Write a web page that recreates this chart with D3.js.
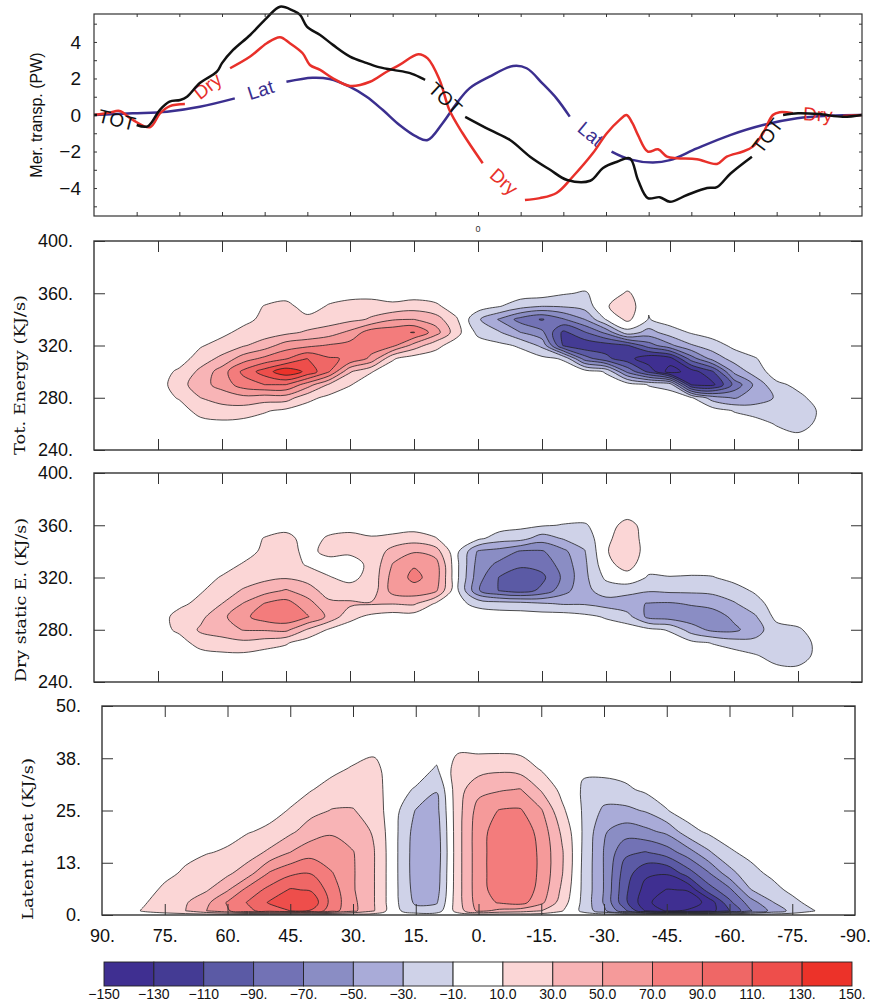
<!DOCTYPE html>
<html>
<head>
<meta charset="utf-8">
<script src="https://cdn.jsdelivr.net/npm/d3@7"></script>
<style>
  body { margin: 0; background: #fff; }
  svg { display: block; }
</style>
</head>
<body>
<div id="chart"></div>
<script>
// ---- top panel: meridional transport (PW) vs latitude ----
const totData = [[90,0],[89.3,0],[80,-0.55],[77.4,-0.62],[74.6,0.27],[72.3,0.73],[69.8,0.82],[68.2,1.0],[65.2,1.75],[61.2,2.37],[60,2.84],[57.4,3.56],[53.4,4.38],[49.5,5.32],[46.4,5.93],[43.4,5.72],[41.7,5.48],[40.1,4.84],[37,4.38],[34,3.84],[30,3.2],[26,2.84],[23.7,2.65],[19.9,2.47],[15.9,2.29],[12.4,1.92],[3,-0.1],[-2.8,-0.82],[-7.5,-1.37],[-12.2,-2.28],[-16.9,-3.0],[-20.9,-3.56],[-26.3,-3.6],[-29.3,-2.9],[-32.6,-2.56],[-35.6,-2.37],[-37.5,-3.56],[-39.8,-4.55],[-42.6,-4.5],[-45,-4.75],[-49,-4.38],[-53.7,-4.0],[-56,-3.95],[-59.2,-3.2],[-64.2,-2.28],[-71.5,0],[-75,0.1],[-80,0.05],[-85.5,-0.1],[-90,0]];
const dryData = [[90,0],[86.3,0.13],[84,0.22],[80.9,-0.27],[76.9,-0.67],[74.5,0.1],[72.2,0.49],[68.7,0.6],[58.1,2.56],[53.4,3.2],[49.5,3.93],[46.4,4.26],[44.1,3.93],[41.1,3.38],[39.4,2.74],[37,2.47],[34,2.01],[30,1.59],[25.3,1.82],[21.4,2.37],[18.4,2.74],[14,3.33],[11.8,3.1],[9,1.92],[6.7,0.27],[3.6,-1.0],[-1.1,-2.64],[-11,-4.66],[-14.5,-4.55],[-18.4,-4.27],[-22.2,-3.38],[-26.9,-2.1],[-30.2,-1.0],[-33.2,-0.27],[-34.8,0],[-36.2,-0.45],[-37.5,-1.1],[-39.8,-2.0],[-42.2,-1.88],[-44.3,-2.28],[-46.6,-2.37],[-51.3,-2.42],[-56,-2.68],[-58.3,-2.28],[-62.1,-2.0],[-64.4,-1.73],[-66.8,-1.0],[-69.1,0],[-70.7,0.15],[-73.8,0.1],[-85.5,-0.05],[-90,0]];
const latData = [[90,0],[80.9,0.09],[72.9,0.18],[65.2,0.45],[57,0.91],[44.9,1.82],[38.8,2.04],[34.8,1.97],[30.1,1.55],[26.1,1.0],[22.3,0.27],[18.4,-0.55],[14.4,-1.19],[11.8,-1.37],[8.3,-0.45],[5,0.64],[2,1.46],[-2.7,2.1],[-8.2,2.68],[-11.4,2.56],[-15.1,1.73],[-18.4,0.91],[-21.5,-0.09],[-31.3,-2.0],[-35.6,-2.43],[-41,-2.6],[-45,-2.47],[-51.3,-1.83],[-59.1,-1.1],[-66.8,-0.55],[-74.8,-0.18],[-82.5,-0.04],[-90,0]];
// inline labels: the line is broken between "from" and "to" latitudes
const totLabels = [{text: 'TOT', from: 89.3, to: 80}, {text: 'TOT', from: 12.4, to: 3}, {text: 'TOT', from: -64.2, to: -71.5}];
const dryLabels = [{text: 'Dry', from: 68.7, to: 58.1}, {text: 'Dry', from: -1.1, to: -11}, {text: 'Dry', from: -73.8, to: -85.5}];
const latLabels = [{text: 'Lat', from: 57, to: 44.9}, {text: 'Lat', from: -21.5, to: -31.3}];
const merTicks = [-4, -2, 0, 2, 4];

// ---- contour panels: one column per latitude, one value per row ----
const latGrid = [90,85,80,75,70,65,60,55,50,45,40,35,30,25,20,15,10,5,0,-5,-10,-15,-20,-25,-30,-35,-40,-45,-50,-55,-60,-65,-70,-75,-80,-85,-90];
const energyRows = [240,250,260,270,280,290,300,310,320,330,340,350,360,370,380];
const latentRows = [0,1,3,6,10,15,20,25,30,35,40,45,50];

const totEnergyCols = [
  [0,0,0,0,0,0,0,0,0,0,0,0,0,0,0],
  [0,0,0,0,0,0,0,0,0,0,0,0,0,0,0],
  [0,0,0,0,0,0,0,0,0,0,0,0,0,0,0],
  [0,0,0,0,0,0,0,0,0,0,0,0,0,0,0],
  [0,0,0,0,12,22,14,0,0,0,0,0,0,0,0],
  [0,0,2,18,30,42,35,20,8,0,0,0,0,0,0],
  [0,0,5,22,38,58,60,35,18,5,0,0,0,0,0],
  [0,0,3,20,44,80,95,60,28,16,4,0,0,0,0],
  [0,0,0,12,40,90,120,75,40,20,15,11,0,0,0],
  [0,0,0,5,40,90,145,88,60,25,18,17,0,0,0],
  [0,0,0,0,16,60,125,110,65,33,16,0,0,0,0],
  [0,0,0,0,5,28,92,92,72,40,20,12,0,0,0],
  [0,0,0,0,0,11,32,88,78,55,25,20,0,0,0],
  [0,0,0,0,0,0,11,65,80,82,32,22,0,0,0],
  [0,0,0,0,0,0,0,12,75,85,48,15,0,0,0],
  [0,0,0,0,0,0,0,0,42,91,50,20,0,0,0],
  [0,0,0,0,0,0,0,0,16,60,40,14,0,0,0],
  [0,0,0,0,0,0,0,0,0,17,12,0,0,0,0],
  [0,0,0,0,0,0,0,0,0,-15,-27,0,0,0,0],
  [0,0,0,0,0,0,0,0,-5,-28,-52,-9,0,0,0],
  [0,0,0,0,0,0,0,0,-13,-50,-78,-22,0,0,0],
  [0,0,0,0,0,0,0,-5,-35,-65,-92,-30,0,0,0],
  [0,0,0,0,0,0,0,-12,-112,-115,-72,-28,-8,0,0],
  [0,0,0,0,0,0,0,-80,-125,-92,-50,-22,-12,0,0],
  [0,0,0,0,0,0,-12,-105,-120,-65,-9,8,0,0,0],
  [0,0,0,0,0,0,-75,-122,-112,-18,15,22,12,0,0],
  [0,0,0,0,0,-11,-115,-145,-80,-38,-11,-8,0,0,0],
  [0,0,0,0,0,-18,-160,-138,-55,-20,0,0,0,0,0],
  [0,0,0,0,-8,-131,-140,-80,-32,-8,0,0,0,0,0],
  [0,0,0,0,-40,-135,-112,-42,-20,0,0,0,0,0,0],
  [0,0,0,-11,-52,-85,-45,-22,-5,0,0,0,0,0,0],
  [0,0,0,-20,-40,-45,-20,-11,0,0,0,0,0,0,0],
  [0,0,-12,-22,-28,-14,0,0,0,0,0,0,0,0,0],
  [0,-8,-14,-16,-14,-6,0,0,0,0,0,0,0,0,0],
  [0,0,-8,-9,-4,0,0,0,0,0,0,0,0,0,0],
  [0,0,0,0,0,0,0,0,0,0,0,0,0,0,0],
  [0,0,0,0,0,0,0,0,0,0,0,0,0,0,0]
];

const dryStaticCols = [
  [0,0,0,0,0,0,0,0,0,0,0,0,0,0,0],
  [0,0,0,0,0,0,0,0,0,0,0,0,0,0,0],
  [0,0,0,0,0,0,0,0,0,0,0,0,0,0,0],
  [0,0,0,0,0,0,0,0,0,0,0,0,0,0,0],
  [0,0,0,0,15,18,5,0,0,0,0,0,0,0,0],
  [0,0,0,20,33,25,16,8,0,0,0,0,0,0,0],
  [0,0,5,22,40,45,30,20,12,0,0,0,0,0,0],
  [0,0,5,25,51,65,51,32,20,12,0,0,0,0,0],
  [0,0,0,20,52,80,71,42,25,20,15,11,0,0,0],
  [0,0,0,12,55,85,78,52,28,20,16,18,0,0,0],
  [0,0,0,0,28,72,58,40,22,8,6,0,0,0,0],
  [0,0,0,0,8,45,35,20,11,4,14,13,0,0,0],
  [0,0,0,0,0,16,34,16,6,3,13,18,0,0,0],
  [0,0,0,0,0,5,32,18,15,14,14,12,0,0,0],
  [0,0,0,0,0,0,31,58,58,51,38,15,0,0,0],
  [0,0,0,0,0,0,33,62,75,68,48,20,0,0,0],
  [0,0,0,0,0,0,8,55,62,60,40,11,0,0,0],
  [0,0,0,0,0,0,-5,-5,-5,-5,-5,-2,0,0,0],
  [0,0,0,0,0,0,-15,-68,-62,-58,-52,-5,0,0,0],
  [0,0,0,0,0,0,-20,-91,-91,-75,-58,-20,0,0,0],
  [0,0,0,0,0,0,-22,-100,-105,-85,-72,-22,-5,0,0],
  [0,0,0,0,0,0,-28,-85,-95,-82,-72,-40,-8,0,0],
  [0,0,0,0,0,0,-32,-58,-66,-62,-55,-28,-11,0,0],
  [0,0,0,0,0,-5,-32,-35,-35,-34,-31,-22,-12,0,0],
  [0,0,0,0,0,-12,-38,-22,-6,4,8,5,0,0,0],
  [0,0,0,0,0,-22,-45,-22,2,18,25,22,18,0,0],
  [0,0,0,0,-5,-56,-51,-28,-12,-3,0,0,0,0,0],
  [0,0,0,0,-12,-60,-52,-26,-11,0,0,0,0,0,0],
  [0,0,0,-5,-40,-62,-48,-26,-12,0,0,0,0,0,0],
  [0,0,0,-11,-55,-62,-42,-25,-11,0,0,0,0,0,0],
  [0,0,0,-20,-55,-45,-32,-18,-4,0,0,0,0,0,0],
  [0,0,-8,-25,-38,-32,-18,-7,0,0,0,0,0,0,0],
  [0,-6,-18,-24,-18,-4,0,0,0,0,0,0,0,0,0],
  [0,-8,-16,-17,-12,-3,0,0,0,0,0,0,0,0,0],
  [0,-4,-6,-6,-3,0,0,0,0,0,0,0,0,0,0],
  [0,0,0,0,0,0,0,0,0,0,0,0,0,0,0],
  [0,0,0,0,0,0,0,0,0,0,0,0,0,0,0]
];

const latentCols = [
  [0,0,0,0,0,0,0,0,0,0,0,0,0],
  [0,0,0,0,0,0,0,0,0,0,0,0,0],
  [0,12,8,2,0,0,0,0,0,0,0,0,0],
  [0,20,20,14,5,0,0,0,0,0,0,0,0],
  [0,30,28,20,13,5,0,0,0,0,0,0,0],
  [0,50,45,28,20,9,3,0,0,0,0,0,0],
  [0,68,72,48,26,12,5,0,0,0,0,0,0],
  [0,85,92,78,42,20,9,3,0,0,0,0,0],
  [0,100,112,96,72,34,13,5,0,0,0,0,0],
  [0,110,124,112,86,50,26,11,4,0,0,0,0],
  [0,108,125,108,89,62,40,24,9,0,0,0,0],
  [0,78,82,80,71,58,48,31,18,5,0,0,0],
  [0,55,55,52,52,51,40,31,22,12,0,0,0],
  [0,31,31,31,31,31,28,22,19,15,6,0,0],
  [0,-5,-5,-5,-5,-5,-5,-4,-2,0,0,0,0],
  [0,-22,-34,-38,-40,-40,-38,-31,-12,0,0,0,0],
  [0,-20,-32,-38,-40,-42,-40,-36,-29,-12,0,0,0],
  [0,18,22,22,22,22,22,22,22,20,6,0,0],
  [0,55,60,62,62,62,62,58,44,22,5,0,0],
  [0,45,72,80,82,82,80,71,48,26,4,0,0],
  [0,40,78,86,88,88,84,72,51,22,3,0,0],
  [0,30,55,62,65,65,62,52,28,8,0,0,0],
  [0,11,20,26,31,32,26,14,4,0,0,0,0],
  [0,-15,-15,-14,-14,-13,-12,-12,-12,-8,0,0,0],
  [0,-45,-52,-51,-51,-51,-48,-34,-18,-4,0,0,0],
  [0,-85,-105,-105,-100,-86,-60,-35,-14,-2,0,0,0],
  [0,-132,-145,-138,-126,-91,-55,-28,-6,0,0,0,0],
  [0,-152,-162,-151,-128,-80,-45,-11,0,0,0,0,0],
  [0,-148,-160,-149,-100,-60,-18,0,0,0,0,0,0],
  [0,-140,-145,-100,-72,-33,-6,0,0,0,0,0,0],
  [0,-111,-95,-75,-38,-12,-3,0,0,0,0,0,0],
  [0,-72,-60,-31,-15,-6,0,0,0,0,0,0,0],
  [0,-45,-32,-16,-7,0,0,0,0,0,0,0,0],
  [0,-24,-15,-6,0,0,0,0,0,0,0,0,0],
  [0,-11,-4,0,0,0,0,0,0,0,0,0,0],
  [0,0,0,0,0,0,0,0,0,0,0,0,0],
  [0,0,0,0,0,0,0,0,0,0,0,0,0]
];

// contour levels and fills
const levels = [10, 30, 50, 70, 90, 110, 130, 150];
const redFills = ['#fbd6d6', '#f8b4b6', '#f59a9a', '#f37c7c', '#ef6766', '#ee4e4b', '#ec3229', '#ec3229'];
const blueFills = ['#cfd2e8', '#a9abd8', '#8a8dc4', '#7272b5', '#5b5aa5', '#443b94', '#3f2f91', '#3f2f91'];

// axis ticks
const latTicks = [90,75,60,45,30,15,0,-15,-30,-45,-60,-75,-90];
const latTickLabels = ['90.','75.','60.','45.','30.','15.','0.','-15.','-30.','-45.','-60.','-75.','-90.'];
const energyTicks = [240, 280, 320, 360, 400];
const energyTickLabels = ['240.', '280.', '320.', '360.', '400.'];
const latentTicks = [0, 12.5, 25, 37.5, 50];
const latentTickLabels = ['0.', '13.', '25.', '38.', '50.'];

// colour bar
const barLevels = [-150,-130,-110,-90,-70,-50,-30,-10,10,30,50,70,90,110,130,150];
const barLabels = ['\u2212150','\u2212130','\u2212110','\u221290.','\u221270.','\u221250.','\u221230.','\u221210.','10.0','30.0','50.0','70.0','90.0','110.','130.','150.'];
const barColors = ['#3f2f91','#443b94','#5b5aa5','#7272b5','#8a8dc4','#a9abd8','#cfd2e8','#ffffff','#fbd6d6','#f8b4b6','#f59a9a','#f37c7c','#ef6766','#ee4e4b','#ec3229'];

const sans = '"Liberation Sans", Arial, sans-serif';
const serif = '"DejaVu Serif", "Liberation Serif", serif';

const svg = d3.select('#chart').append('svg')
  .attr('width', 871)
  .attr('height', 1004)
  .style('font-family', sans);

function styleAxis(g, size) {
  g.select('.domain').remove();
  g.selectAll('.tick line').attr('stroke', '#333').attr('stroke-width', 1);
  g.selectAll('text').attr('font-family', sans).attr('font-size', size).attr('fill', '#111');
}

// ================= panel 1 =================
const x1 = d3.scaleLinear().domain([90, -90]).range([94, 862]);
const y1 = d3.scaleLinear().domain([-5.53, 5.53]).range([216, 14]);
const p1 = svg.append('g');

const tenDeg = [80,70,60,50,40,30,20,10,0,-10,-20,-30,-40,-50,-60,-70,-80];
const unitTicks = [-5,-4,-3,-2,-1,0,1,2,3,4,5];
p1.append('g').attr('transform', 'translate(0,216)')
  .call(d3.axisBottom(x1).tickValues(tenDeg).tickSize(-4).tickFormat(''))
  .call(g => styleAxis(g, 10));
p1.append('g').attr('transform', 'translate(0,14)')
  .call(d3.axisTop(x1).tickValues(tenDeg).tickSize(-3).tickFormat(''))
  .call(g => styleAxis(g, 10));
p1.append('g').attr('transform', 'translate(94,0)')
  .call(d3.axisLeft(y1).tickValues(unitTicks).tickSize(-3).tickFormat(''))
  .call(g => styleAxis(g, 10));
p1.append('g').attr('transform', 'translate(862,0)')
  .call(d3.axisRight(y1).tickValues(unitTicks).tickSize(-3).tickFormat(''))
  .call(g => styleAxis(g, 10));
p1.append('g').attr('transform', 'translate(94,0)')
  .call(d3.axisLeft(y1).tickValues(merTicks).tickSize(0).tickPadding(13).tickFormat(d3.format('d')))
  .call(g => styleAxis(g, 19));

p1.append('text')
  .attr('transform', 'translate(36,115) rotate(-90)')
  .attr('text-anchor', 'middle').attr('dominant-baseline', 'central')
  .attr('font-size', 16).attr('fill', '#111')
  .text('Mer. transp. (PW)');

p1.append('text').attr('x', x1(0)).attr('y', 232)
  .attr('text-anchor', 'middle').attr('font-size', 9).attr('fill', '#333').text('0');

function splitAtLabels(points, labels) {
  const segs = [[points[0]]];
  for (let i = 1; i < points.length; i++) {
    const a = points[i - 1][0], b = points[i][0];
    if (labels.some(l => a >= l.from && b <= l.to)) segs.push([]);
    segs[segs.length - 1].push(points[i]);
  }
  return segs;
}

const curveLine = d3.line()
  .x(d => x1(d[0]))
  .y(d => y1(d[1]))
  .curve(d3.curveCatmullRom.alpha(0.5));

function drawSeries(points, labels, color) {
  splitAtLabels(points, labels).forEach(seg => {
    p1.append('path').attr('d', curveLine(seg))
      .attr('fill', 'none').attr('stroke', color)
      .attr('stroke-width', 2.5).attr('stroke-linejoin', 'round');
  });
  labels.forEach(l => {
    const a = points.find(p => p[0] === l.from);
    const b = points.find(p => p[0] === l.to);
    const ax = x1(a[0]), ay = y1(a[1]), bx = x1(b[0]), by = y1(b[1]);
    const ang = Math.atan2(by - ay, bx - ax) * 180 / Math.PI;
    p1.append('text')
      .attr('transform', `translate(${(ax + bx) / 2},${(ay + by) / 2}) rotate(${ang})`)
      .attr('text-anchor', 'middle').attr('dominant-baseline', 'central')
      .attr('font-size', 19).attr('fill', color)
      .text(l.text);
  });
}

drawSeries(latData, latLabels, '#3b2f8f');
drawSeries(dryData, dryLabels, '#e8302a');
drawSeries(totData, totLabels, '#111111');

p1.append('rect').attr('x', 94).attr('y', 14).attr('width', 768).attr('height', 202)
  .attr('fill', 'none').attr('stroke', '#333').attr('stroke-width', 1.2);

// ================= contour panels =================
function contourPanel(cfg) {
  const { cols, rows, x, y, id } = cfg;
  const g = svg.append('g');
  const [x0, x1r] = x.range(), [yb, yt] = y.range();

  g.append('clipPath').attr('id', id)
    .append('rect').attr('x', x0).attr('y', yt).attr('width', x1r - x0).attr('height', yb - yt);

  const n = cols.length, m = rows.length;
  const values = new Array(n * m);
  for (let j = 0; j < m; j++) for (let i = 0; i < n; i++) values[j * n + i] = cols[i][j];

  // grid index -> data coordinates (samples sit at cell centres)
  const gi = d3.scaleLinear().domain(d3.range(n)).range(latGrid);
  const gj = d3.scaleLinear().domain(d3.range(m)).range(rows);
  const ring = d3.line()
    .x(p => x(gi(p[0] - 0.5)))
    .y(p => y(gj(p[1] - 0.5)))
    .curve(d3.curveCatmullRomClosed.alpha(0.5));
  const toPath = mp => mp.coordinates
    .map(poly => poly.map(r => ring(r.slice(0, -1))).join(''))
    .join('');

  const gen = d3.contours().size([n, m]).thresholds(levels);
  const body = g.append('g').attr('clip-path', `url(#${id})`);
  const draw = (sets, fills) => sets.forEach((c, k) => {
    if (!c.coordinates.length) return;
    body.append('path').attr('d', toPath(c))
      .attr('fill', fills[k]).attr('fill-rule', 'evenodd')
      .attr('stroke', '#222').attr('stroke-width', 0.8);
  });
  draw(gen(values), redFills);
  draw(gen(values.map(v => -v)), blueFills);

  const inner = latTicks.slice(1, -1);
  g.append('g').attr('transform', `translate(0,${yb})`)
    .call(d3.axisBottom(x).tickValues(inner).tickSize(-11).tickFormat(''))
    .call(a => styleAxis(a, 10));
  g.append('g').attr('transform', `translate(0,${yt})`)
    .call(d3.axisTop(x).tickValues(inner).tickSize(-11).tickFormat(''))
    .call(a => styleAxis(a, 10));
  g.append('g').attr('transform', `translate(${x0},0)`)
    .call(d3.axisLeft(y).tickValues(cfg.yTicks).tickSize(-11).tickPadding(21)
      .tickFormat((d, i) => cfg.yLabels[i]))
    .call(a => styleAxis(a, 18));
  g.append('g').attr('transform', `translate(${x1r},0)`)
    .call(d3.axisRight(y).tickValues(cfg.yTicks).tickSize(-11).tickFormat(''))
    .call(a => styleAxis(a, 10));
  if (cfg.xLabels) {
    g.append('g').attr('transform', `translate(0,${yb})`)
      .call(d3.axisBottom(x).tickValues(latTicks).tickSize(0).tickPadding(14)
        .tickFormat((d, i) => latTickLabels[i]))
      .call(a => styleAxis(a, 18));
  }

  g.append('rect').attr('x', x0).attr('y', yt).attr('width', x1r - x0).attr('height', yb - yt)
    .attr('fill', 'none').attr('stroke', '#333').attr('stroke-width', 1.4);

  g.append('text')
    .attr('transform', `translate(${cfg.title[1]},${cfg.title[2]}) rotate(-90)`)
    .attr('text-anchor', 'middle').attr('dominant-baseline', 'central')
    .attr('font-family', serif).attr('font-size', 15).attr('fill', '#111')
    .attr('textLength', cfg.title[3]).attr('lengthAdjust', 'spacingAndGlyphs')
    .text(cfg.title[0]);
}

contourPanel({
  id: 'clipTot', cols: totEnergyCols, rows: energyRows,
  x: d3.scaleLinear().domain([90, -90]).range([94, 862]),
  y: d3.scaleLinear().domain([240, 400]).range([450, 241]),
  yTicks: energyTicks, yLabels: energyTickLabels,
  title: ['Tot. Energy (KJ/s)', 20, 375, 160]
});
contourPanel({
  id: 'clipDry', cols: dryStaticCols, rows: energyRows,
  x: d3.scaleLinear().domain([90, -90]).range([94, 862]),
  y: d3.scaleLinear().domain([240, 400]).range([682, 473]),
  yTicks: energyTicks, yLabels: energyTickLabels,
  title: ['Dry static E. (KJ/s)', 21, 600, 164]
});
contourPanel({
  id: 'clipLat', cols: latentCols, rows: latentRows,
  x: d3.scaleLinear().domain([90, -90]).range([102, 855]),
  y: d3.scaleLinear().domain([0, 50]).range([915, 706]),
  yTicks: latentTicks, yLabels: latentTickLabels, xLabels: true,
  title: ['Latent heat (KJ/s)', 28, 839, 162]
});

// ================= colour bar =================
const cb = d3.scaleLinear().domain([-150, 150]).range([104, 852]);
const bar = svg.append('g');
bar.selectAll('rect').data(barColors).join('rect')
  .attr('x', (d, i) => cb(barLevels[i]))
  .attr('y', 962)
  .attr('width', (d, i) => cb(barLevels[i + 1]) - cb(barLevels[i]))
  .attr('height', 24)
  .attr('fill', d => d)
  .attr('stroke', '#222').attr('stroke-width', 0.9);
bar.selectAll('text').data(barLabels).join('text')
  .attr('x', (d, i) => cb(barLevels[i]))
  .attr('y', 999)
  .attr('text-anchor', 'middle')
  .attr('font-size', 14).attr('fill', '#111')
  .text(d => d);
</script>
</body>
</html>
